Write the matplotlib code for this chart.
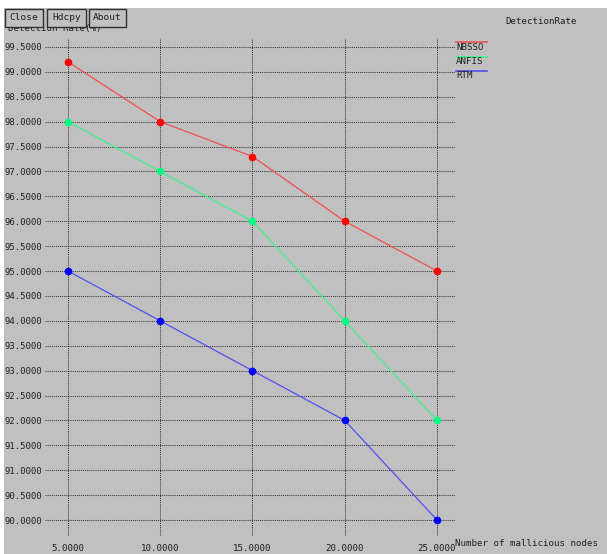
import matplotlib.pyplot as plt
from matplotlib.patches import Rectangle

# 数据: 恶意节点数量 vs 检测率
nodes = [5, 10, 15, 20, 25]
nbsso = [99.2, 98.0, 97.3, 96.0, 95.0]
anfis = [98.0, 97.0, 96.0, 94.0, 92.0]
rtm = [95.0, 94.0, 93.0, 92.0, 90.0]

series_names = ["NBSSO", "ANFIS", "RTM"]
series_colors = ["#ff0000", "#00ff7f", "#0000ff"]
line_colors = ["#f05050", "#40f090", "#5050f0"]

y_ticks = [90.0 + 0.5 * i for i in range(20)]

W, H = 607, 554
BG = "#c0c0c0"
MONO = "DejaVu Sans Mono"

fig = plt.figure(figsize=(W / 100, H / 100), dpi=100, facecolor="white")

# 灰色背景区域（左上留白边）
fig.patches.append(Rectangle((4 / W, 0), 1, 1 - 8 / H, transform=fig.transFigure,
                             facecolor=BG, edgecolor="none", zorder=-10))


def px(x0, y0, x1, y1):
    """像素坐标转换为figure坐标 [left, bottom, width, height]."""
    return [x0 / W, 1 - y1 / H, (x1 - x0) / W, (y1 - y0) / H]


ax = fig.add_axes(px(45, 38, 455, 536))
ax.set_facecolor("none")
for s in ax.spines.values():
    s.set_visible(False)

# 坐标范围: x=5 -> 68px, x=25 -> 437px; y=99.5 -> 47px, y=90 -> 520px
xs = 369 / 20
ys = 473 / 9.5
ax.set_xlim(5 - 23 / xs, 25 + 18 / xs)
ax.set_ylim(90 - 16 / ys, 99.5 + 9 / ys)

ax.set_xticks(nodes)
ax.set_xticklabels([f"{v:.4f}" for v in nodes], fontfamily=MONO, fontsize=6.6)
ax.set_yticks(y_ticks)
ax.set_yticklabels([f"{v:.4f}" for v in y_ticks], fontfamily=MONO, fontsize=6.4)
ax.tick_params(length=0, pad=2, colors="#202020")
ax.tick_params(axis="x", pad=6)
ax.grid(True, color="#383838", linestyle=(0, (1, 1)), linewidth=0.75)

for vals, c, lc in zip([nbsso, anfis, rtm], series_colors, line_colors):
    ax.plot(nodes, vals, color=lc, linewidth=0.9, zorder=3)
    ax.plot(nodes, vals, "o", color=c, markersize=4.5, zorder=4)

# 图例（右上角）
for i, (name, lc) in enumerate(zip(series_names, line_colors)):
    y = 42 + 14.5 * i
    fig.add_artist(plt.Line2D([456 / W, 487 / W], [1 - y / H, 1 - y / H],
                              color=lc, linewidth=1.2))
    fig.text(456 / W, 1 - (y + 5) / H, name, fontfamily=MONO, fontsize=6.6,
             color="#202020", va="center", ha="left")

fig.text(541 / W, 1 - 22 / H, "DetectionRate", fontfamily=MONO, fontsize=6.6,
         color="#202020", va="center", ha="center")
fig.text(8 / W, 1 - 28 / H, "Detection Rate(%)", fontfamily=MONO, fontsize=6.6,
         color="#202020", va="center", ha="left")
fig.text(455 / W, 1 - 543 / H, "Number of mallicious nodes", fontfamily=MONO,
         fontsize=6.6, color="#202020", va="center", ha="left")

# 顶部按钮
for label, x0, x1 in [("Close", 5, 43), ("Hdcpy", 47, 86), ("About", 89, 126)]:
    fig.patches.append(Rectangle((x0 / W, 1 - 27 / H), (x1 - x0) / W, 18 / H,
                                 transform=fig.transFigure, facecolor=BG,
                                 edgecolor="#303030", linewidth=1.0, zorder=5))
    fig.text((x0 + x1) / 2 / W, 1 - 18 / H, label, fontfamily=MONO, fontsize=6.8,
             color="#202020", va="center", ha="center", zorder=6)

fig.savefig("out.png", dpi=100, facecolor="white")
